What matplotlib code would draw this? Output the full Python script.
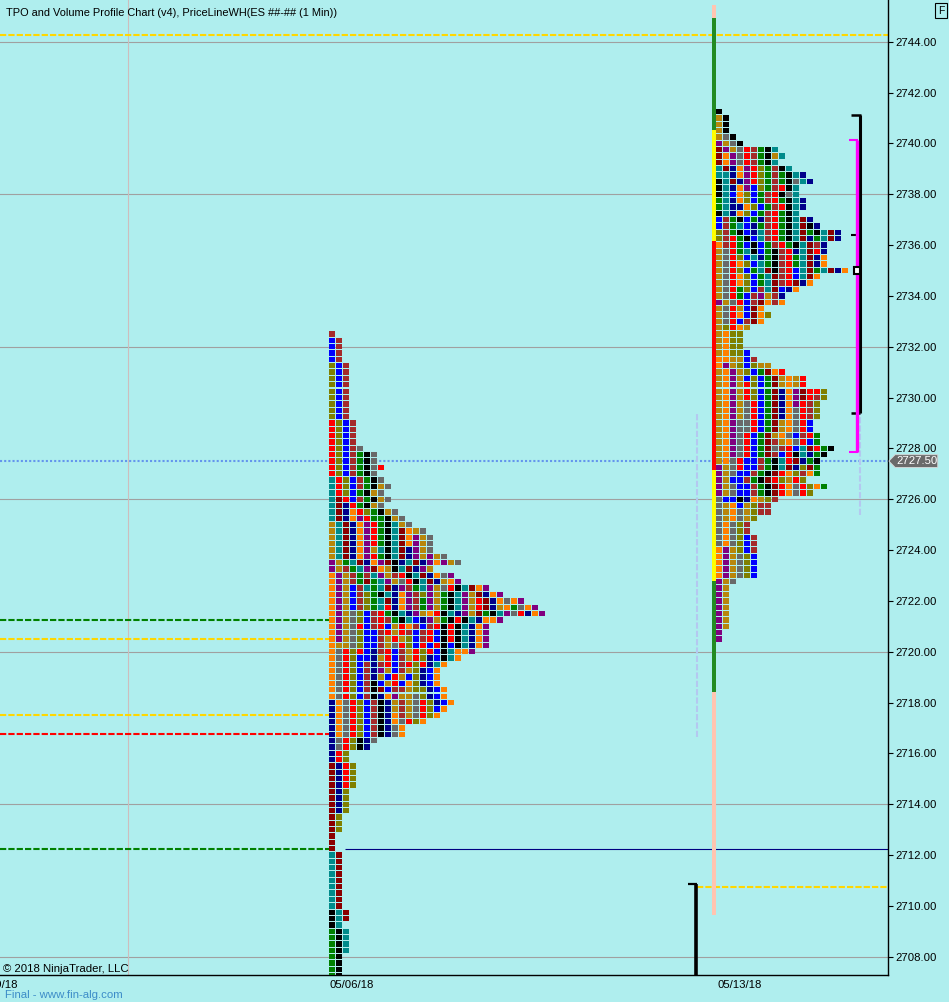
import numpy as np
import matplotlib
matplotlib.use('Agg')
import matplotlib.pyplot as plt
from matplotlib.patches import Polygon, Rectangle

plt.rcParams['font.family'] = ['Liberation Sans', 'DejaVu Sans']

# ========================================
# Data
# ========================================
# TPO letter colours (one char per bracket colour)
palette = {
    'R': '#FF0000', 'D': '#8B0000', 'W': '#A52A2A', 'B': '#0000FF',
    'N': '#00008B', 'O': '#808000', 'G': '#008000', 'K': '#000000',
    'Y': '#696969', 'T': '#008B8B', 'L': '#B8860B', 'A': '#FF8000',
    'P': '#800080',
}

tick_size = 0.25

# week of 05/06 - rows from the top price down
left_top = 2732.5
left_rows = (['W'] + ['BW'] * 4 + ['OBW'] * 9 + ['ROBW'] * 4 + [
    'ROBWY', 'ROBWGKY', 'ROBWGKY', 'ROBWGKYR', 'ROBWGKY', 'TROBWGKY',
    'TROBWGKLY', 'TROBGKLY', 'TDRBWGKLY', 'TDNRGKLY', 'TDNAROGKLY',
    'TDNAPRGGKLY', 'LTDNAPRGKTLY', 'LTDNAPRGKTDALY', 'LTDNAPRGKTDAPLY',
    'LTDNAPRGKTDAPLY', 'LTDNAPLTKTDNPLY', 'LTDNAPRGKTDNPLPLY',
    'PLGTDNAPDKNTDNPAPLY', 'PLWGTPDALKTDNPL', 'APLWGWTPLWRKTDNAYP',
    'APLWGDGTPLYRKTDNLAP', 'APLBWTGTDNPWGTPLYRKTDAP',
    'APLBWOGKTNAPWOPLGKTPLDNAP', 'APLBWOGTDNAPWGPLGKTPLRDNAYAP',
    'APLBWOGTRNAPWGPLGKTPLRDNLAGYAP', 'APLYOBWRGKTNPLARKTNPLDGKTPYRNAP',
    'APLYOBWRWGKTBNPLGKRKTNAAP', 'APLYRBWRBLRAWBWRKRKTNAP',
    'APLYOBBWRLRWBWRBKRKTNAP', 'APLYOBBWLRLOBWRBKRKTNAP',
    'ALLYOBBWLYROBRBRKBKTNAP', 'AYRORBNWRBWLRORBKTAAP',
    'AYROBBNLRBWLRONBKTA', 'AYROBWNWRBWRORNTA', 'AYROBWNPLBWLONBA',
    'AYROBWNLBRLBONBA', 'AYROBWKBLRBAONBA', 'AYROBWKDBWWLOONBA',
    'AYROBWKNAPLLYONBA', 'NAYROBWKNLWLYRONBA', 'NAYROBWKNLWLYROBA',
    'NAYROBWKNAWLYROA', 'NAYROBWKNAYROA', 'NAYROBWKNYA', 'NAYROBWKNYA',
    'NYROKNY', 'NYROKN'] + ['NRO'] * 2 + ['DNRO'] * 4 + ['DNO'] * 4
    + ['DO'] * 3 + ['D'] * 3 + ['TD'] * 9 + ['KTD'] * 2 + ['KT']
    + ['GKT'] * 4 + ['GK'] * 4)

# week of 05/13
right_top = 2741.25
right_rows = (['K'] + ['LK'] * 3 + [
    'LYK', 'PLYK', 'DPLYRWGKT', 'DAPYRWGKLT', 'DAPYRWGKT', 'TDNAPROGWKT',
    'TTNAPROGWGKTN', 'KTDNPROGWGKYTN', 'KTNAPBOGWRKT', 'KTBAOBGWRKYT',
    'GTNAOBGWRGKTN', 'GTNNAOBGWRKTN', 'KTNAOBGWRGKT', 'BWGKBGNWRGKTDN',
    'BWGTBNGWRGKTDKN', 'OWGKBNTWRGKTDGKTDN', 'OWRGKBTWRGKTDNGTDN',
    'AWRGBKBGWRGKTDWN', 'LYRGTKBGKWRNTDRN', 'LYROBTNGKWRGTDNA',
    'LYRAOBTGKWRGTDNA', 'LYROBGTDKWRBTDGTDNA', 'LYRAOBGTDWRBTDA',
    'LYRAOBGTDWRDNA', 'LYRGOBWTDBNA', 'LYRGBWPLWN', 'PLYRBWDAWA',
    'LYRLBDA', 'LYRABDAO', 'LYRBWDA', 'LORAL'] + ['LAOO'] * 3 + [
    'LAOOB', 'AALLBW', 'APLOBOLL', 'LAPLOBGDAR', 'LAPLBOBGDLALR',
    'LAPLROBGDLALR', 'LAPLROBGDNAPDRRO', 'LAPLROBGDNAPDRWO',
    'LAPLYRBGDNAPRWO', 'LAPLYRBGDNAYRWO', 'LAPLYRBGDNAYRWO',
    'LAPYYRBGDLAYRB', 'LAPYYRBGDLAYRB', 'LAPYRBGDLAYBWRG',
    'LAPYRBGDWLAYRBG', 'LAPYRBGDYWRBTDRGK', 'LAPYRBGDWBRKTNGK',
    'LAYRBBWGKTRDNGK', 'PLYRBBWGKTDNODG', 'PLYBBWGKDRAOWAG',
    'PLBBWGKDROLRO', 'PLYBBWGKDRAYROAG', 'PLYBBWGKDRAYRO', 'YBBKNALOW',
    'YLABLOWW', 'YLAYLOWW', 'YLAYLO', 'YAYOW', 'YAYOW', 'YAYOBW', 'YAYOBW',
    'APLOBW'] + ['APLYOB'] * 4 + ['PLY'] + ['PL'] * 7 + ['P'] * 2)

# value-area bar beside the 05/13 profile (price breaks, colours)
va_breaks = [2745.44, 2744.93, 2740.53, 2736.17, 2727.15, 2722.78, 2718.42, 2709.64]
va_colors = ['#FFC4B0', '#228B22', '#FFFF00', '#FF0000', '#FFFF00', '#228B22', '#FFC4B0']

# horizontal reference levels
level_prices = [2744.25, 2721.25, 2720.5, 2717.5, 2716.75, 2712.25, 2710.75]
level_colors = ['#FFD700', '#008000', '#FFD700', '#FFD700', '#FF0000', '#008000', '#FFD700']
level_from = [0, 0, 0, 0, 0, 0, 697]
level_to = [888, 329, 329, 329, 329, 329, 888]

last_price = 2727.5
prior_close = 2712.25
prior_bracket_top = 2710.875

wk_range = (2729.375, 2741.125)      # black bracket
wk_mid = 2736.375
wk_box = 2735.0
ib_range = (2727.875, 2740.125)      # magenta bracket

vol_lines_x = [697, 860]
vol_lines = [(2716.625, 2729.375), (2725.375, 2735.75)]

grid_prices = [2708, 2714, 2720, 2726, 2732, 2738, 2744]
date_labels = ['04/29/18', '05/06/18', '05/13/18']
date_x = [-27, 330, 718]

# ========================================
# Layout
# ========================================
BG = '#AFEEEE'
W, H = 949, 1002
fig = plt.figure(figsize=(W / 100, H / 100), dpi=100)
fig.patch.set_facecolor(BG)
ax = fig.add_axes([0, 27 / H, 888 / W, 975 / H])
ax.set_facecolor(BG)
ax.set_xlim(0, 888)
ax.set_ylim(2707.28, 2745.64)

for g in grid_prices:
    ax.axhline(g, color='#A0A0A0', lw=0.8, zorder=1)
ax.axvline(128, color='#CDBDBD', lw=0.8, zorder=1)

# dashed levels
for p, c, x0, x1 in zip(level_prices, level_colors, level_from, level_to):
    ax.hlines(p, x0, x1, colors=c, lw=1.5, linestyles=(0, (3, 1)), zorder=2)

ax.hlines(prior_close, 345, 888, colors='#000080', lw=0.8, zorder=2)
ax.axhline(last_price, color='#6495ED', lw=1.5, ls=(0, (1, 1)), zorder=1.5)

# faint volume markers
for x, (lo, hi) in zip(vol_lines_x, vol_lines):
    ax.vlines(x, lo, hi, colors='#B4C8F0', lw=1.5, linestyles=(0, (3, 1)), zorder=1.6)


# ========================================
# TPO blocks
# ========================================
def draw_profile(rows, top, x0):
    xs, ys, cs = [], [], []
    for i, row in enumerate(rows):
        price = top - i * tick_size
        for k, ch in enumerate(row):
            xs.append(x0 + k * 7)
            ys.append(price - 0.105)
            cs.append(palette[ch])
    ax.bar(xs, 0.21, width=6, bottom=ys, align='edge', color=cs,
           linewidth=0, zorder=3)


draw_profile(left_rows, left_top, 329)
draw_profile(right_rows, right_top, 716)

# side bar of the right profile
for hi, lo, c in zip(va_breaks[:-1], va_breaks[1:], va_colors):
    ax.bar(712, hi - lo, width=4, bottom=lo, align='edge', color=c,
           linewidth=0, zorder=3)

# prior week bracket
ax.vlines(696, 2706, prior_bracket_top, colors='black', lw=2.6, zorder=3)
ax.hlines(prior_bracket_top, 688, 697, colors='black', lw=1.6, zorder=3)

# weekly range brackets on the right
ax.vlines(859.5, wk_range[0], wk_range[1], colors='black', lw=2.2, zorder=3)
ax.hlines(wk_range[1], 851, 861, colors='black', lw=1.8, zorder=3)
ax.hlines(wk_range[0], 851, 860, colors='black', lw=1.8, zorder=3)
ax.hlines(wk_mid, 851, 857, colors='black', lw=1.5, zorder=3)
ax.vlines(856.5, ib_range[0], ib_range[1], colors='#FF00FF', lw=2.4, zorder=4)
ax.hlines(ib_range[1], 849, 858, colors='#FF00FF', lw=1.5, zorder=4)
ax.hlines(ib_range[0], 849, 858, colors='#FF00FF', lw=1.5, zorder=4)
ax.add_patch(Rectangle((853.5, wk_box - 0.13), 6.5, 0.26, fc='white', ec='black',
                       lw=1.5, zorder=5))

# ========================================
# Axes styling
# ========================================
for s in ['left', 'top']:
    ax.spines[s].set_visible(False)
ax.spines['right'].set_linewidth(1.0)
ax.spines['bottom'].set_linewidth(1.0)
ax.set_xticks([])
ax.yaxis.tick_right()
yt = np.arange(2708, 2745, 2)
ax.set_yticks(yt)
ax.set_yticklabels([f'{v:.2f}' for v in yt])
ax.tick_params(axis='y', length=3.6, width=0.8, pad=1.5, labelsize=8.2, colors='black')

for lab, x in zip(date_labels, date_x):
    ax.text(x, -10 / 975, lab, transform=ax.get_xaxis_transform(), fontsize=8.2,
            ha='left', va='center', clip_on=False)

# last price marker
tr = ax.get_yaxis_transform()
hh = 0.25
ax.add_patch(Polygon([(1.001, last_price), (1.008, last_price + hh), (1.056, last_price + hh),
                      (1.056, last_price - hh), (1.008, last_price - hh)],
                     closed=True, transform=tr, fc='#6A6A6A', ec='#D8D8D8', lw=0.6,
                     clip_on=False, zorder=6))
ax.text(1.0325, last_price, f'{last_price:.2f}', transform=tr, color='white', fontsize=8.2,
        ha='center', va='center', clip_on=False, zorder=7)

fig.text(6 / W, 1 - 12.5 / H, 'TPO and Volume Profile Chart (v4), PriceLineWH(ES ##-## (1 Min))',
         fontsize=7.95, va='center', ha='left')
fig.text(3 / W, 1 - 969 / H, '\u00a9 2018 NinjaTrader, LLC', fontsize=8.2, va='center', ha='left')
fig.text(5 / W, 1 - 995 / H, 'Final - www.fin-alg.com', fontsize=8.2, va='center', ha='left',
         color='#3C8CC8')
fig.text(941 / W, 1 - 10.5 / H, 'F', fontsize=7.5, ha='center', va='center',
         bbox=dict(boxstyle='square,pad=0.25', fc='none', ec='black', lw=0.8))

fig.savefig('out.png', dpi=100, facecolor=BG)
